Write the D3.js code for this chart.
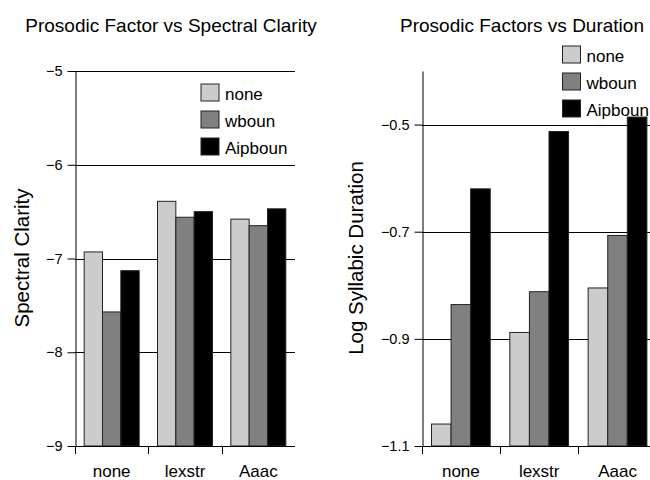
<!DOCTYPE html>
<html>
<head>
<meta charset="utf-8">
<script src="https://cdn.jsdelivr.net/npm/d3@7"></script>
<style>
  body { margin: 0; background: #fff; }
  svg text { font-family: "Liberation Sans", Arial, sans-serif; fill: #000; }
</style>
</head>
<body>
<svg width="650" height="480"></svg>
<script>
// data
const groups = ["none", "lexstr", "Aaac"];
const series = ["none", "wboun", "Aipboun"];
const colors = ["#cccccc", "#808080", "#000000"];

const clarityNone = [-6.93, -6.39, -6.58];
const clarityWboun = [-7.57, -6.56, -6.65];
const clarityAipboun = [-7.13, -6.50, -6.47];
const clarityTicks = [-9, -8, -7, -6, -5];

const durNone = [-1.059, -0.888, -0.805];
const durWboun = [-0.836, -0.812, -0.707];
const durAipboun = [-0.620, -0.513, -0.486];
const durTicks = [-1.1, -0.9, -0.7, -0.5];

const svg = d3.select("svg");

function drawPanel(opt) {
  const g = svg.append("g");
  const x0 = d3.scaleBand().domain(groups).range([opt.left, opt.right]).padding(0);
  const x1 = d3.scaleBand().domain(series).range([0, x0.bandwidth()])
      .paddingInner(0).paddingOuter(0.5);
  const y = d3.scaleLinear().domain(opt.domain).range([446, 71]);

  // gridlines
  g.append("g").selectAll("line")
    .data(opt.ticks)
    .join("line")
      .attr("x1", opt.left)
      .attr("x2", opt.gridEnd)
      .attr("y1", d => Math.round(y(d)) + 0.5)
      .attr("y2", d => Math.round(y(d)) + 0.5)
      .attr("stroke", "#000")
      .attr("stroke-width", 1);

  // bars
  const rows = groups.map((grp, i) => series.map((s, j) => ({grp, s, j, v: opt.values[j][i]})));
  g.append("g").selectAll("g")
    .data(rows)
    .join("g")
      .attr("transform", (d, i) => `translate(${x0(groups[i])},0)`)
    .selectAll("rect")
    .data(d => d)
    .join("rect")
      .attr("x", d => x1(d.s))
      .attr("width", x1.bandwidth())
      .attr("y", d => y(d.v))
      .attr("height", d => y(opt.domain[0]) - y(d.v))
      .attr("fill", d => colors[d.j])
      .attr("stroke", "#222")
      .attr("stroke-width", 1);

  // y axis
  const ya = g.append("g")
    .attr("transform", `translate(${Math.round(opt.left) + 0.5},0)`)
    .call(d3.axisLeft(y).tickValues(opt.ticks).tickSize(8).tickSizeOuter(0)
      .tickPadding(5).tickFormat(d3.format(opt.fmt)));
  ya.selectAll("text").style("font-size", "14.5px")
    .style("font-family", "'Liberation Sans', Arial, sans-serif");
  ya.selectAll("line").attr("stroke", "#000");
  ya.select(".domain").attr("stroke", "#000");

  // x axis
  g.append("line")
    .attr("x1", opt.left).attr("x2", opt.gridEnd)
    .attr("y1", 446.5).attr("y2", 446.5)
    .attr("stroke", "#000");
  g.append("g").selectAll("line")
    .data(groups)
    .join("line")
      .attr("x1", d => Math.round(x0(d)) + 0.5)
      .attr("x2", d => Math.round(x0(d)) + 0.5)
      .attr("y1", 446).attr("y2", 454)
      .attr("stroke", "#000");
  g.append("g").selectAll("text")
    .data(groups)
    .join("text")
      .attr("x", d => x0(d) + x0.bandwidth() / 2)
      .attr("y", 477)
      .attr("text-anchor", "middle")
      .style("font-size", "17px")
      .text(d => d);

  // title
  g.append("text")
    .attr("x", opt.titleX).attr("y", 32)
    .attr("text-anchor", "middle")
    .style("font-size", "19px")
    .text(opt.title);

  // y label
  g.append("text")
    .attr("transform", `translate(${opt.labelX},258) rotate(-90)`)
    .attr("text-anchor", "middle")
    .style("font-size", "20.5px")
    .text(opt.ylabel);

  // legend
  const leg = g.append("g").selectAll("g")
    .data(series)
    .join("g")
      .attr("transform", (d, i) => `translate(${opt.legX},${opt.legY + i * 27})`);
  leg.append("rect")
    .attr("width", 18).attr("height", 17)
    .attr("fill", (d, i) => colors[i])
    .attr("stroke", "#222");
  leg.append("text")
    .attr("x", 24).attr("y", 15.5)
    .style("font-size", "17px")
    .text(d => d);
}

drawPanel({
  left: 75, right: 295, gridEnd: 295,
  domain: [-9, -5], ticks: clarityTicks, fmt: "d",
  values: [clarityNone, clarityWboun, clarityAipboun],
  title: "Prosodic Factor vs Spectral Clarity", titleX: 171,
  ylabel: "Spectral Clarity", labelX: 29,
  legX: 201, legY: 84
});

drawPanel({
  left: 421.7, right: 656.7, gridEnd: 650,
  domain: [-1.1, -0.4], ticks: durTicks, fmt: ".1f",
  values: [durNone, durWboun, durAipboun],
  title: "Prosodic Factors vs Duration", titleX: 522,
  ylabel: "Log Syllabic Duration", labelX: 363,
  legX: 562.5, legY: 46
});
</script>
</body>
</html>
